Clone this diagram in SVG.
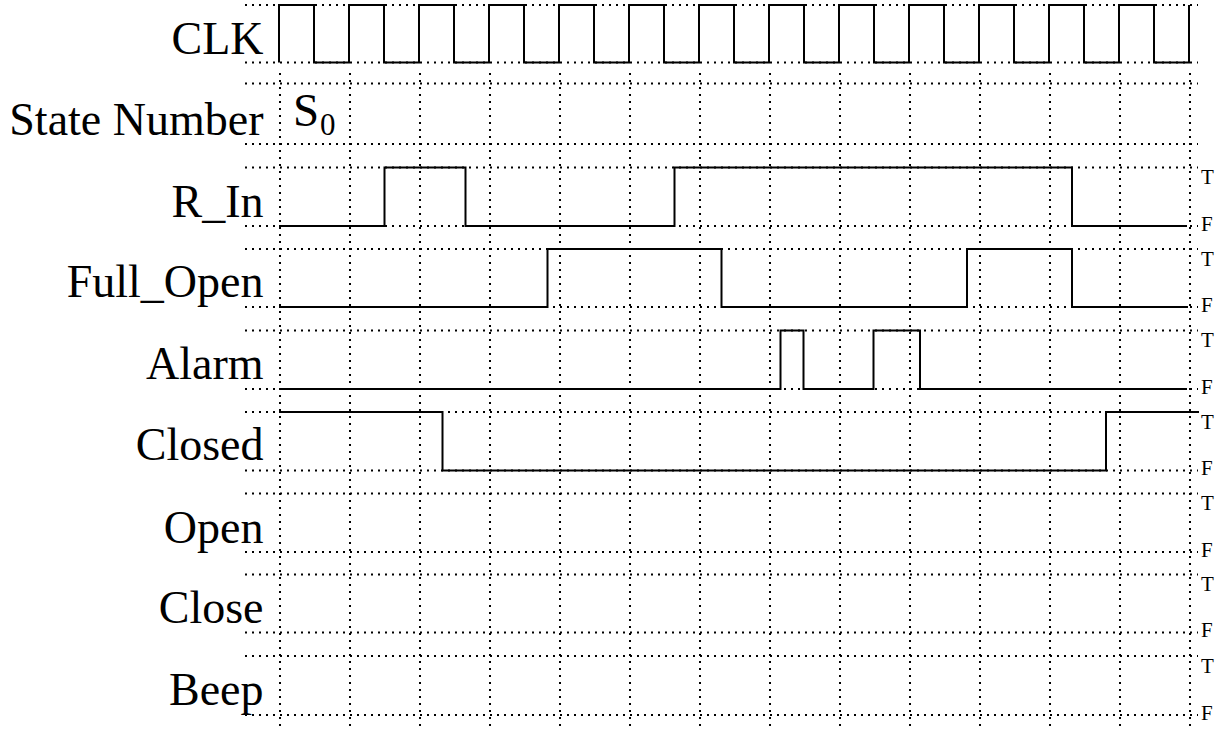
<svg xmlns="http://www.w3.org/2000/svg" width="1225" height="734" viewBox="0 0 1225 734">
<style>
.grid{stroke:#000;stroke-width:2;stroke-dasharray:2 5;fill:none}
.wave{stroke:#000;stroke-width:2;fill:none;stroke-linejoin:miter}
.lbl{font-family:"Liberation Serif","Times New Roman",serif;font-size:46px;text-anchor:end;fill:#000}
.tf{font-family:"Liberation Serif","Times New Roman",serif;font-size:21px;fill:#000}
.sym{font-family:"Liberation Serif","Times New Roman",serif;fill:#000}
</style>
<rect width="1225" height="734" fill="#fff"/>
<g id="grid">
<path class="grid" d="M245,5H1198M245,62.5H1198M245,83.5H1198M245,144H1198M245,167.5H1198M245,226H1198M245,249H1198M245,307H1198M245,330.5H1198M245,389H1198M245,412H1198M245,470.5H1198M245,493.5H1198M245,552H1198M245,574.5H1198M245,632.5H1198M245,656H1198M245,715H1198"/>
<path class="grid" d="M280,73V731M350,73V731M420,73V731M490,73V731M560,73V731M630,73V731M700,73V731M770,73V731M840,73V731M910,73V731M980,73V731M1050,73V731M1120,73V731M1190,73V731"/>
</g>
<g id="clk">
<text class="lbl" x="263.5" y="54">CLK</text>
<path class="wave" d="M279,62.5V5H314V62.5H349V5H384V62.5H419V5H454V62.5H489V5H524V62.5H559V5H594V62.5H629V5H664V62.5H699V5H734V62.5H769V5H804V62.5H839V5H874V62.5H909V5H944V62.5H979V5H1014V62.5H1049V5H1084V62.5H1119V5H1154V62.5H1189V5"/>
</g>
<g id="state-number">
<text class="lbl" x="263.5" y="135">State Number</text>
<text class="sym" x="293" y="126" font-size="47">S</text>
<text class="sym" x="320" y="135" font-size="31">0</text>
</g>
<g id="r-in">
<text class="lbl" x="263.5" y="217">R_In</text>
<path class="wave" d="M279,226H384.5V167.5H465.5V226H674.5V167.5H1072V226H1187"/>
<text class="tf" x="1201" y="184">T</text>
<text class="tf" x="1201" y="230.5">F</text>
</g>
<g id="full-open">
<text class="lbl" x="263.5" y="297">Full_Open</text>
<path class="wave" d="M279,307H547.5V249H721.5V307H967V249H1072V307H1188"/>
<text class="tf" x="1201" y="265.5">T</text>
<text class="tf" x="1201" y="311.5">F</text>
</g>
<g id="alarm">
<text class="lbl" x="263.5" y="379">Alarm</text>
<path class="wave" d="M279,389H780.5V330.5H803.5V389H873.5V330.5H920V389H1187"/>
<text class="tf" x="1201" y="347">T</text>
<text class="tf" x="1201" y="393.5">F</text>
</g>
<g id="closed">
<text class="lbl" x="263.5" y="460">Closed</text>
<path class="wave" d="M279,412H442.5V470.5H1106V412H1199"/>
<text class="tf" x="1201" y="428.5">T</text>
<text class="tf" x="1201" y="475">F</text>
</g>
<g id="open">
<text class="lbl" x="263.5" y="543">Open</text>
<text class="tf" x="1201" y="510">T</text>
<text class="tf" x="1201" y="556.5">F</text>
</g>
<g id="close">
<text class="lbl" x="263.5" y="623">Close</text>
<text class="tf" x="1201" y="591">T</text>
<text class="tf" x="1201" y="637">F</text>
</g>
<g id="beep">
<text class="lbl" x="263.5" y="705">Beep</text>
<text class="tf" x="1201" y="672.5">T</text>
<text class="tf" x="1201" y="719.5">F</text>
</g>
</svg>
